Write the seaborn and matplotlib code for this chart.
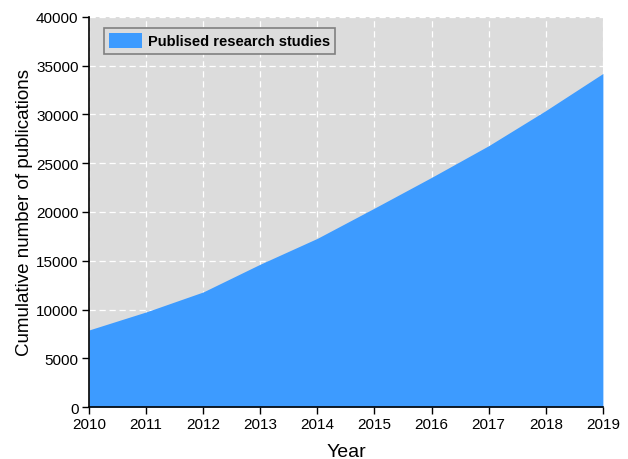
import numpy as np
import pandas as pd
import matplotlib
matplotlib.use("Agg")
import matplotlib.pyplot as plt
import seaborn as sns

years = [2010, 2011, 2012, 2013, 2014, 2015, 2016, 2017, 2018, 2019]
publications = [7900, 9750, 11800, 14650, 17300, 20400, 23550, 26800, 30400, 34200]
series_label = "Publised research studies"

df = pd.DataFrame({"Year": years, "Publications": publications})

sns.set_style("ticks")
plt.rcParams["font.family"] = ["Liberation Sans", "DejaVu Sans"]
plt.rcParams["text.color"] = "black"
plt.rcParams["axes.labelcolor"] = "black"

fig = plt.figure(figsize=(6.28, 4.6), dpi=100)
ax = fig.add_axes([0.1417, 0.113, 0.8183, 0.848])
ax.set_facecolor("#DCDCDC")

sns.lineplot(data=df, x="Year", y="Publications", ax=ax, linewidth=0, color="#3D9BFF")
ax.fill_between(df["Year"], df["Publications"], 0, color="#3D9BFF", linewidth=0,
                label=series_label, zorder=2)

ax.set_xlim(2010, 2019)
ax.set_ylim(0, 40000)
ax.set_xticks(years)
ax.set_yticks(range(0, 40001, 5000))
ax.grid(True, color="white", linestyle=(0, (5, 3)), linewidth=0.9)
ax.set_axisbelow(True)

for s in ["top", "right"]:
    ax.spines[s].set_visible(False)
for s in ["left", "bottom"]:
    ax.spines[s].set_color("black")
    ax.spines[s].set_linewidth(1.2)
ax.tick_params(direction="out", length=5, width=1, labelsize=11, colors="black", pad=2.5)

ax.set_xlabel("Year", fontsize=14, labelpad=8)
ax.set_ylabel("Cumulative number of publications", fontsize=13.5, labelpad=2)

leg = ax.legend(loc="upper left", bbox_to_anchor=(0.02, 0.983), frameon=True,
                fancybox=False, edgecolor="#808080", facecolor="#DCDCDC",
                framealpha=1, prop={"weight": "bold", "size": 10.5},
                handlelength=2.3, handleheight=1.2, handletextpad=0.4,
                borderpad=0.35, borderaxespad=0.3)
leg.get_frame().set_linewidth(1.2)

fig.savefig("out.png", dpi=100)
